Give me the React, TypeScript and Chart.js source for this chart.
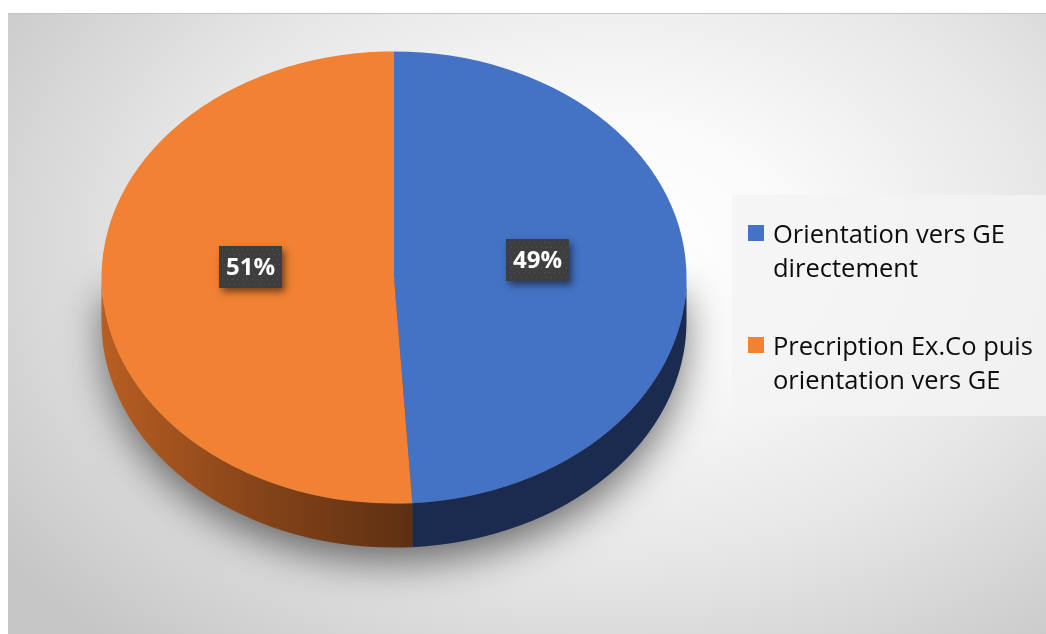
import React, { useEffect, useRef } from "react";
import { Chart, registerables } from "chart.js";

Chart.register(...registerables);

const categories: string[] = ["Orientation vers GE directement", "Precription Ex.Co puis orientation vers GE"];
const legendLines: string[][] = [["Orientation vers GE", "directement"], ["Precription Ex.Co puis", "orientation vers GE"]];
const values: number[] = [49, 51];
const labels: string[] = ["49%", "51%"];
const topColors: string[] = ["#4472c4", "#f18234"];

const TARGET_CY = 263.5;
const SY = 0.773;
const DEPTH = 44;
const LABEL_R = 0.49;
const LIFT = 14;

const pie3d = {
  id: "pie3d",
  beforeDatasetsDraw(chart: any) {
    const ctx: CanvasRenderingContext2D = chart.ctx;
    const meta = chart.getDatasetMeta(0);
    const a0 = meta.data[0];
    if (!a0) return;
    const cx = a0.x, cy = a0.y, r = a0.outerRadius;
    ctx.save();
    ctx.translate(cx, TARGET_CY);
    ctx.scale(1, SY);
    ctx.translate(-cx, -cy);
    const d = DEPTH / SY;
    // shadow
    ctx.save();
    ctx.shadowColor = "rgba(0,0,0,0.55)";
    ctx.shadowBlur = 40;
    ctx.shadowOffsetY = 16;
    ctx.fillStyle = "#555";
    ctx.beginPath();
    ctx.arc(cx, cy + d, r - 2, 0, Math.PI);
    ctx.lineTo(cx - r + 2, cy + 4);
    ctx.lineTo(cx + r - 2, cy + 4);
    ctx.closePath();
    ctx.fill();
    ctx.restore();
    // sides
    const TWO = Math.PI * 2;
    meta.data.forEach((arc: any, i: number) => {
      let s = arc.startAngle, e = arc.endAngle;
      while (s < 0) { s += TWO; e += TWO; }
      const segs: [number, number][] = [];
      const ranges: [number, number][] = [[0, Math.PI], [TWO, TWO + Math.PI]];
      ranges.forEach(([lo, hi]) => {
        const a = Math.max(s, lo), b = Math.min(e, hi);
        if (b > a) segs.push([a, b]);
      });
      segs.forEach(([a, b]) => {
        ctx.beginPath();
        ctx.arc(cx, cy, r, a, b);
        ctx.arc(cx, cy + d, r, b, a, true);
        ctx.closePath();
        if (i === 0) {
          ctx.fillStyle = "#1a2b4f";
        } else {
          const xb = cx + Math.cos(a) * r;
          const g = ctx.createLinearGradient(cx - r, 0, xb, 0);
          g.addColorStop(0, "#b85e22");
          g.addColorStop(0.5, "#864419");
          g.addColorStop(1, "#5d3012");
          ctx.fillStyle = g;
        }
        ctx.fill();
      });
    });
  },
  afterDatasetsDraw(chart: any) {
    const ctx: CanvasRenderingContext2D = chart.ctx;
    ctx.restore();
    const meta = chart.getDatasetMeta(0);
    meta.data.forEach((arc: any, i: number) => {
      const cx = arc.x, r = arc.outerRadius;
      const m = (arc.startAngle + arc.endAngle) / 2;
      const x = cx + Math.cos(m) * r * LABEL_R;
      const y = TARGET_CY + Math.sin(m) * r * LABEL_R * SY - LIFT;
      const w = 63, h = 42;
      const bx = Math.round(x - w / 2), by = Math.round(y - h / 2);
      ctx.save();
      ctx.shadowColor = "rgba(0,0,0,0.5)";
      ctx.shadowBlur = 7;
      ctx.shadowOffsetX = 3;
      ctx.shadowOffsetY = 4;
      ctx.fillStyle = "#3e3e3e";
      ctx.fillRect(bx, by, w, h);
      ctx.restore();
      ctx.save();
      ctx.fillStyle = "#555555";
      for (let yy = by + 3; yy < by + h; yy += 5) {
        for (let xx = bx + 3 + ((yy - by) % 10 === 3 ? 0 : 2); xx < bx + w; xx += 5) {
          ctx.fillRect(xx, yy, 1, 1);
        }
      }
      ctx.fillStyle = "#ffffff";
      ctx.font = "bold 24px 'Open Sans'";
      ctx.textAlign = "center";
      ctx.textBaseline = "middle";
      ctx.fillText(labels[i], bx + w / 2, by + h / 2 + 1);
      ctx.restore();
    });
  },
};

export default function App() {
  const ref = useRef<HTMLCanvasElement | null>(null);
  useEffect(() => {
    if (!ref.current) return;
    const chart = new Chart(ref.current, {
      type: "pie",
      data: {
        labels: categories,
        datasets: [
          {
            data: values,
            backgroundColor: topColors,
            borderWidth: 0,
            clip: false as any,
          },
        ],
      },
      options: {
        animation: false,
        responsive: true,
        maintainAspectRatio: false,
        layout: { padding: { left: 93, right: 359, top: 17, bottom: 18 } },
        plugins: { legend: { display: false }, tooltip: { enabled: false } },
      },
      plugins: [pie3d],
    });
    return () => chart.destroy();
  }, []);

  const itemTops = [21, 133];
  return (
    <div
      style={{
        position: "absolute",
        left: 8,
        top: 13,
        width: 1038,
        height: 621,
        borderTop: "1px solid #c4c4c4",
        boxSizing: "border-box",
        background:
          "radial-gradient(ellipse 72% 85% at 58% 38%, #ffffff 0%, #fafafa 25%, #e6e6e6 60%, #d2d2d2 85%, #c6c6c6 100%)",
        overflow: "hidden",
      }}
    >
      <canvas ref={ref} style={{ position: "absolute", left: 0, top: 0, width: 1038, height: 620 }} />
      <div
        style={{
          position: "absolute",
          left: 724,
          top: 181,
          width: 314,
          height: 221,
          background: "rgba(244,244,244,0.8)",
          fontFamily: "'Open Sans', sans-serif",
          fontSize: 25.5,
          color: "#0d0d0d",
        }}
      >
        {legendLines.map((lines, i) => (
          <div key={i} style={{ position: "absolute", left: 16, top: itemTops[i] }}>
            <div
              style={{
                position: "absolute",
                left: 0,
                top: 9,
                width: 16,
                height: 16,
                background: topColors[i],
              }}
            />
            <div style={{ position: "absolute", left: 25, top: 0, lineHeight: "34px", whiteSpace: "nowrap" }}>
              {lines.map((l, j) => (
                <div key={j}>{l}</div>
              ))}
            </div>
          </div>
        ))}
      </div>
    </div>
  );
}
